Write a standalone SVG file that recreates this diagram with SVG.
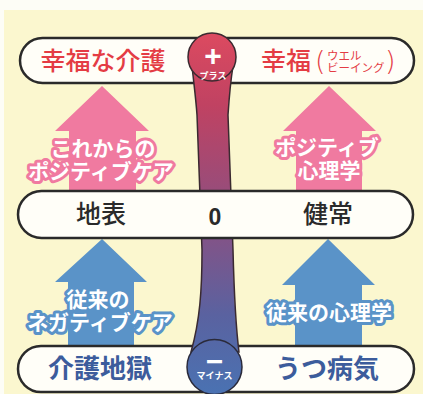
<svg xmlns="http://www.w3.org/2000/svg" width="423" height="394" viewBox="0 0 423 394">
<defs>
<linearGradient id="col" x1="0" y1="33" x2="0" y2="394" gradientUnits="userSpaceOnUse">
<stop offset="0" stop-color="#dc4a60"/>
<stop offset="0.2" stop-color="#c04262"/>
<stop offset="0.5" stop-color="#8e4f80"/>
<stop offset="0.78" stop-color="#5a62a0"/>
<stop offset="1" stop-color="#4a72b2"/>
</linearGradient>
<style>
.bar{fill:#fffef8;stroke:#2a2a2a;stroke-width:2.5}
.jp{font-family:"Noto Sans CJK JP","Noto Sans",sans-serif;text-anchor:middle}
.big{font-size:25px;font-weight:500}
.red{fill:#e43c44}
.blk{fill:#2a2a2a}
.blu{fill:#3c5c9c}
.lblp{font-size:21px;font-weight:700;fill:#fff;stroke:#f07aa0;stroke-width:6;stroke-linejoin:round;paint-order:stroke}
.lblb{font-size:21px;font-weight:700;fill:#fff;stroke:#5a93c8;stroke-width:6;stroke-linejoin:round;paint-order:stroke}
.pink{fill:#f07aa0}
.blue{fill:#5a93c8}
.sm{font-size:9px;font-weight:700;fill:#fff}
.par{font-family:"DejaVu Sans",sans-serif;font-weight:200;font-size:27px;fill:#e43c44}
.wb{font-family:"Noto Sans CJK JP","Noto Sans",sans-serif;font-size:11.5px;fill:#e43c44;text-anchor:start}
</style>
</defs>
<rect width="423" height="394" fill="#fdfdf6"/>
<rect x="4" y="10" width="419" height="384" fill="#fbf7cf"/>

<g id="arrow-pink-left"><path class="pink" d="M102,86 L149,131 L136,131 L136,192 L69,192 L69,131 L55,131 Z"/></g>
<g id="arrow-pink-right"><path class="pink" d="M329,86 L376,131 L362,131 L362,192 L296,192 L296,131 L283,131 Z"/></g>
<g id="arrow-blue-left"><path class="blue" d="M102,239 L147,282 L134,282 L134,347 L68,347 L68,282 L55,282 Z"/></g>
<g id="arrow-blue-right"><path class="blue" d="M328,239 L375,285 L362,285 L362,347 L295,347 L295,285 L282,285 Z"/></g>

<g id="labels-arrows">
<text class="jp lblp" x="103" y="155.5">これからの<tspan x="101" dy="23">ポジティブケア</tspan></text>
<text class="jp lblp" x="327" y="155">ポジティブ<tspan x="329" dy="23">心理学</tspan></text>
<text class="jp lblb" x="98" y="306.5">従来の<tspan x="100" dy="23">ネガティブケア</tspan></text>
<text class="jp lblb" x="329" y="319.5">従来の心理学</text>
</g>

<g id="bar-top"><rect class="bar" x="20" y="38" width="394" height="45" rx="22.5"/></g>
<g id="bar-bottom"><rect class="bar" x="18" y="346" width="396" height="46" rx="23"/></g>

<g id="axis">
<path fill="url(#col)" stroke="#3a2a30" stroke-width="1.5" d="M192,66 C194,85 196,100 197,115 L202,250 C202,290 200,320 191,352 L239,352 C235,320 234,290 233,250 L228,115 C229,100 230,85 233,66 Z"/>
<circle cx="212" cy="57" r="24" fill="url(#col)" stroke="#3a2a30" stroke-width="1.5"/>
<circle cx="214.5" cy="367" r="27.5" fill="url(#col)" stroke="#2a2a3a" stroke-width="1.5"/>
<text x="213" y="65.5" font-family="Liberation Sans,sans-serif" font-weight="700" font-size="30" fill="#fff" text-anchor="middle">+</text>
<text class="jp sm" x="213" y="78.5">プラス</text>
<text class="jp" x="214.5" y="368.5" font-size="18" font-weight="900" fill="#fff">ー</text>
<text class="jp sm" x="214.5" y="379">マイナス</text>
</g>

<g id="bar-middle"><rect class="bar" x="18" y="191" width="395" height="47" rx="23.5"/></g>

<g id="labels-bars">
<text class="jp big red" x="103" y="70">幸福な介護</text>
<text class="jp big red" x="286" y="70">幸福</text>
<text class="par" x="325.5" y="70" text-anchor="end">(</text>
<text class="wb" x="327" y="59.5">ウエル<tspan x="327" dy="12">ビーイング</tspan></text>
<text class="par" x="385" y="70" text-anchor="start">)</text>
<text class="jp big blk" x="101" y="222.5">地表</text>
<text x="215" y="225" font-family="Liberation Sans,sans-serif" font-weight="700" font-size="23" fill="#2a2a2a" text-anchor="middle">0</text>
<text class="jp big blk" x="328" y="223">健常</text>
<text class="jp blu" x="100" y="378" font-size="26" font-weight="700">介護地獄</text>
<text class="jp blu" x="327" y="378" font-size="26" font-weight="700">うつ病気</text>
</g>
</svg>
